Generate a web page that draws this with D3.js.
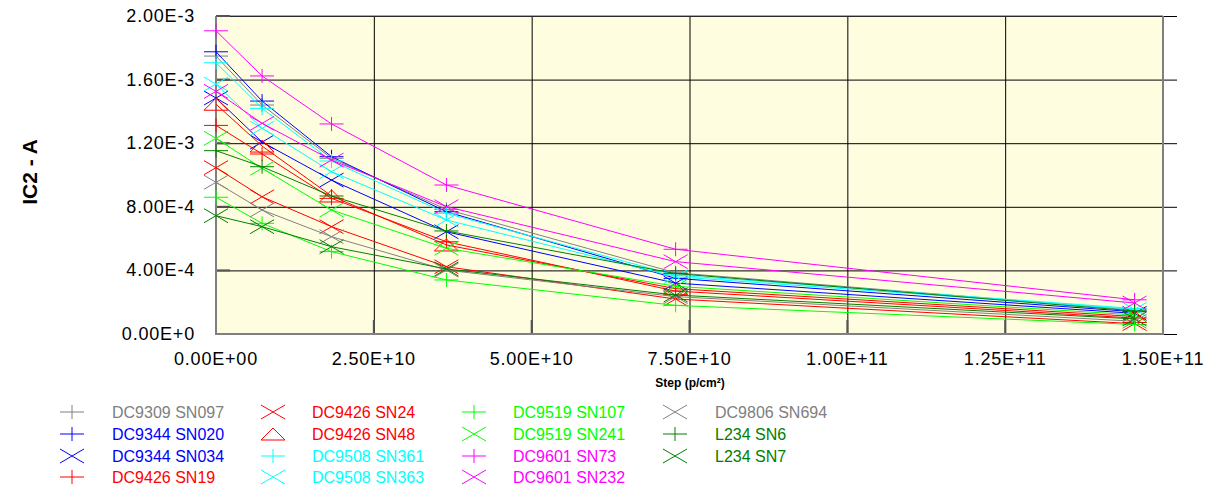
<!DOCTYPE html>
<html><head><meta charset="utf-8">
<script src="https://cdn.jsdelivr.net/npm/d3@7/dist/d3.min.js"></script>
<style>body{margin:0;background:#fff;}svg{display:block;font-family:"Liberation Sans",Arial,sans-serif;}</style>
</head><body><svg id="c" width="1219" height="490"></svg>
<script>
// ---- data ----
const xValues = [0, 7.3e9, 1.83e10, 3.65e10, 7.28e10, 1.455e11];
const xTicks = [0, 2.5e10, 5e10, 7.5e10, 1e11, 1.25e11, 1.5e11];
const yTicks = [0, 4e-4, 8e-4, 1.2e-3, 1.6e-3, 2e-3];
const seriesNames = ["DC9309 SN097","DC9344 SN020","DC9344 SN034","DC9426 SN19","DC9426 SN24","DC9426 SN48","DC9508 SN361","DC9508 SN363","DC9519 SN107","DC9519 SN241","DC9601 SN73","DC9601 SN232","DC9806 SN694","L234 SN6","L234 SN7"];
const sDC9309_SN097 = [1.748e-3, 1.440e-3, 1.105e-3, 0.784e-3, 0.385e-3, 0.150e-3];
const sDC9344_SN020 = [1.775e-3, 1.465e-3, 1.115e-3, 0.769e-3, 0.350e-3, 0.140e-3];
const sDC9344_SN034 = [1.484e-3, 1.207e-3, 0.968e-3, 0.643e-3, 0.320e-3, 0.130e-3];
const sDC9426_SN19  = [1.312e-3, 1.132e-3, 0.853e-3, 0.580e-3, 0.270e-3, 0.100e-3];
const sDC9426_SN24  = [1.046e-3, 0.863e-3, 0.675e-3, 0.423e-3, 0.220e-3, 0.065e-3];
const sDC9426_SN48  = [1.445e-3, 1.182e-3, 0.868e-3, 0.560e-3, 0.285e-3, 0.110e-3];
const sDC9508_SN361 = [1.706e-3, 1.419e-3, 1.088e-3, 0.759e-3, 0.370e-3, 0.160e-3];
const sDC9508_SN363 = [1.572e-3, 1.294e-3, 1.021e-3, 0.717e-3, 0.360e-3, 0.155e-3];
const sDC9519_SN107 = [0.860e-3, 0.696e-3, 0.518e-3, 0.340e-3, 0.180e-3, 0.060e-3];
const sDC9519_SN241 = [1.231e-3, 1.042e-3, 0.780e-3, 0.539e-3, 0.300e-3, 0.120e-3];
const sDC9601_SN73  = [1.907e-3, 1.623e-3, 1.321e-3, 0.937e-3, 0.533e-3, 0.215e-3];
const sDC9601_SN232 = [1.526e-3, 1.325e-3, 1.094e-3, 0.801e-3, 0.455e-3, 0.195e-3];
const sDC9806_SN694 = [0.954e-3, 0.780e-3, 0.612e-3, 0.402e-3, 0.235e-3, 0.080e-3];
const sL234_SN6     = [1.153e-3, 1.052e-3, 0.868e-3, 0.648e-3, 0.380e-3, 0.145e-3];
const sL234_SN7     = [0.744e-3, 0.675e-3, 0.549e-3, 0.409e-3, 0.245e-3, 0.095e-3];
const seriesValues = [sDC9309_SN097,sDC9344_SN020,sDC9344_SN034,sDC9426_SN19,sDC9426_SN24,sDC9426_SN48,sDC9508_SN361,sDC9508_SN363,sDC9519_SN107,sDC9519_SN241,sDC9601_SN73,sDC9601_SN232,sDC9806_SN694,sL234_SN6,sL234_SN7];

// ---- styles ----
const seriesColors = ["#808080","#0000ff","#0000ff","#ff0000","#ff0000","#ff0000","#00ffff","#00ffff","#00ff00","#00ff00","#ff00ff","#ff00ff","#808080","#008000","#008000"];
const seriesMarkers = ["plus","plus","cross","plus","cross","tri","plus","cross","plus","cross","plus","cross","cross","plus","cross"];

const svg = d3.select("#c");
const L = 216, R = 1163, T = 16, B = 334;
const x = d3.scaleLinear().domain([0, 1.5e11]).range([L, R]);
const y = d3.scaleLinear().domain([0, 2e-3]).range([B, T]);

function fmtX(v){ const s = v.toExponential(2).split("e"); let e = parseInt(s[1]); const sign = e < 0 ? "-" : "+"; e = Math.abs(e); return s[0] + "E" + sign + String(e).padStart(2,"0"); }
function fmtY(v){ const s = v.toExponential(2).split("e"); let e = parseInt(s[1]); const sign = e < 0 ? "-" : "+"; return s[0] + "E" + sign + Math.abs(e); }

// plot background
svg.append("rect").attr("x", L).attr("y", T).attr("width", R - L).attr("height", B - T).attr("fill", "#fffde0");

// gridlines
const gx = svg.append("g").attr("transform", `translate(0,${B})`)
  .call(d3.axisBottom(x).tickValues(xTicks).tickSize(-(B - T)).tickFormat(""));
gx.select(".domain").remove();
gx.selectAll("line").attr("stroke", "#000").attr("stroke-width", 1);
const gy = svg.append("g").attr("transform", `translate(${L},0)`)
  .call(d3.axisLeft(y).tickValues(yTicks).tickSize(-(R - L + 14)).tickFormat(""));
gy.select(".domain").remove();
gy.selectAll("line").attr("stroke", "#000").attr("stroke-width", 1);

// inner tick marks
svg.append("g").selectAll("line").data(yTicks).join("line")
  .attr("x1", L).attr("x2", L + 14).attr("y1", d => y(d)).attr("y2", d => y(d))
  .attr("stroke", "#555").attr("stroke-width", 2);
svg.append("g").selectAll("line").data(xTicks).join("line")
  .attr("x1", d => x(d)).attr("x2", d => x(d)).attr("y1", B).attr("y2", B - 14)
  .attr("stroke", "#555").attr("stroke-width", 2);

// frame
svg.append("line").attr("x1", L).attr("x2", L).attr("y1", T).attr("y2", B + 1).attr("stroke", "#808080").attr("stroke-width", 2);
svg.append("line").attr("x1", L).attr("x2", R + 1).attr("y1", B).attr("y2", B).attr("stroke", "#808080").attr("stroke-width", 2);
svg.append("line").attr("x1", R).attr("x2", R).attr("y1", T).attr("y2", B).attr("stroke", "#808080").attr("stroke-width", 2);
svg.append("line").attr("x1", L).attr("x2", R).attr("y1", T).attr("y2", T).attr("stroke", "#555").attr("stroke-width", 1);

// tick labels
svg.append("g").selectAll("text").data(yTicks).join("text")
  .attr("x", 195).attr("y", d => y(d) + 6).attr("text-anchor", "end")
  .attr("font-size", 18).attr("letter-spacing", 0.8).attr("fill", "#000").text(fmtY);
svg.append("g").selectAll("text").data(xTicks).join("text")
  .attr("x", d => x(d)).attr("y", 365).attr("text-anchor", "middle")
  .attr("font-size", 18).attr("letter-spacing", 0.8).attr("fill", "#000").text(fmtX);

// axis titles
svg.append("text").attr("x", 690).attr("y", 387).attr("text-anchor", "middle")
  .attr("font-size", 12).attr("font-weight", "bold").text("Step (p/cm²)");
svg.append("text").attr("transform", "translate(37,172) rotate(-90)").attr("text-anchor", "middle")
  .attr("font-size", 21).attr("font-weight", "bold").text("IC2 - A");

// markers
function marker(g, type, cx, cy, color){
  const w = 12, h = 7;
  if (type === "plus"){
    g.append("line").attr("x1", cx - w).attr("x2", cx + w).attr("y1", cy).attr("y2", cy).attr("stroke", color);
    g.append("line").attr("x1", cx).attr("x2", cx).attr("y1", cy - h).attr("y2", cy + h).attr("stroke", color);
  } else if (type === "cross"){
    g.append("line").attr("x1", cx - w).attr("x2", cx + w).attr("y1", cy - h).attr("y2", cy + h).attr("stroke", color);
    g.append("line").attr("x1", cx - w).attr("x2", cx + w).attr("y1", cy + h).attr("y2", cy - h).attr("stroke", color);
  } else {
    g.append("path").attr("d", `M${cx - w},${cy + 6}L${cx},${cy - 6}L${cx + w},${cy + 6}Z`).attr("fill", "none").attr("stroke", color);
  }
}

const line = d3.line().x((d, i) => x(xValues[i])).y(d => y(d));
const plot = svg.append("g");
seriesValues.forEach((vals, si) => {
  const g = plot.append("g");
  g.append("path").attr("d", line(vals)).attr("fill", "none").attr("stroke", seriesColors[si]).attr("stroke-width", 1);
  vals.forEach((v, i) => marker(g, seriesMarkers[si], x(xValues[i]), y(v), seriesColors[si]));
});

// legend
const legX = [72, 273, 474, 675], legTX = [112, 312, 513, 715], legY = [412, 434, 456, 477];
const leg = svg.append("g");
seriesNames.forEach((name, i) => {
  const col = Math.floor(i / 4), row = i % 4;
  marker(leg, seriesMarkers[i], legX[col], legY[row], seriesColors[i]);
  leg.append("text").attr("x", legTX[col]).attr("y", legY[row] + 6).attr("font-size", 16)
    .attr("fill", seriesColors[i]).text(name);
});
</script></body></html>
